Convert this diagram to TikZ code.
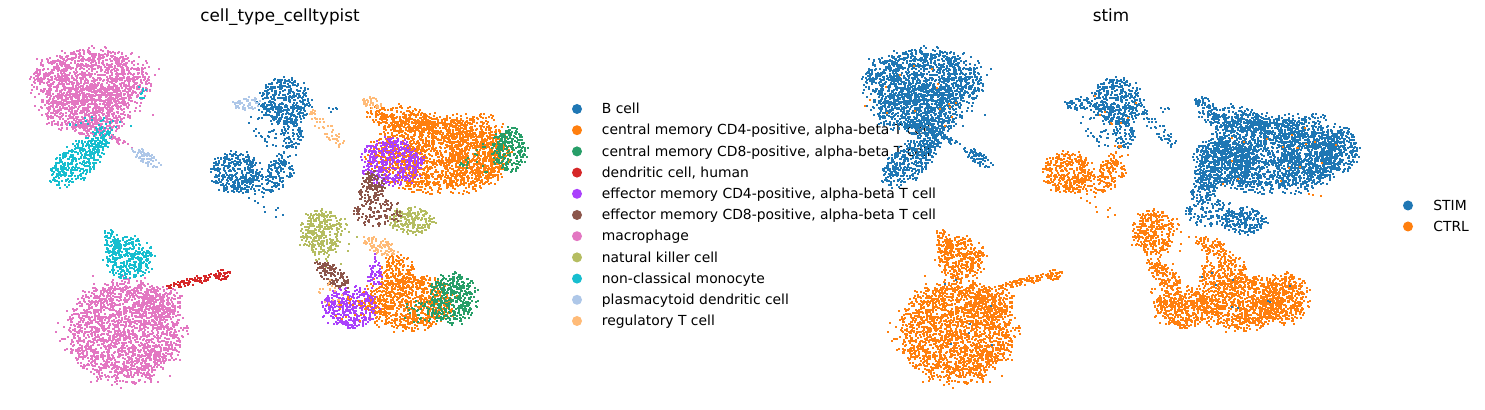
\documentclass[tikz,border=0pt]{standalone}
\usepackage{fontspec}
\setmainfont{DejaVu Sans}
\definecolor{cB}{HTML}{1F77B4}
\definecolor{cCMfour}{HTML}{FF7F0E}
\definecolor{cCMeight}{HTML}{279E68}
\definecolor{cDC}{HTML}{D62728}
\definecolor{cEMfour}{HTML}{AA40FC}
\definecolor{cEMeight}{HTML}{8C564B}
\definecolor{cMac}{HTML}{E377C2}
\definecolor{cNK}{HTML}{B5BD61}
\definecolor{cMono}{HTML}{17BECF}
\definecolor{cPDC}{HTML}{AEC7E8}
\definecolor{cTreg}{HTML}{FFBB78}
\definecolor{cSTIM}{HTML}{1F77B4}
\definecolor{cCTRL}{HTML}{FF7F0E}
\newdimen\bu \newdimen\bv \newdimen\bt \newdimen\bs
\newcount\bn
\newif\ifstimpanel
\newcommand\blobdens{0.22}
% \blob[factor]{cx}{cy}{a}{b}{phi}{seed}  (pixel coordinates, y downwards)
\newcommand\blob[7][1]{%
  \pgfmathsetseed{#7}%
  \pgfmathsetlengthmacro\bKa{0.5*(#4)*cos(#6)}%
  \pgfmathsetlengthmacro\bKb{-0.5*(#5)*sin(#6)}%
  \pgfmathsetlengthmacro\bKc{-0.5*(#4)*sin(#6)}%
  \pgfmathsetlengthmacro\bKd{-0.5*(#5)*cos(#6)}%
  \pgfmathsetlengthmacro\bCx{0.5*(#2)-0.5}%
  \pgfmathsetlengthmacro\bCy{-0.5*(#3)-0.5}%
  \pgfmathtruncatemacro\bN{#1*\blobdens*4*(#4)*(#5)}%
  \bn=\bN\relax
  \loop\ifnum\bn>0
    \pgfmathrand\bu=\pgfmathresult pt
    \pgfmathrand\bv=\pgfmathresult pt
    \bt=\dimexpr\bu*\number\bu/65536+\bv*\number\bv/65536\relax
    \ifdim\bt<1pt
      \pgfmathrnd\bs=\pgfmathresult pt
      \bs=\dimexpr\bs*3/10+0.84pt\relax
      \bu=\dimexpr\bu*\number\bs/65536\relax
      \bv=\dimexpr\bv*\number\bs/65536\relax
      \pgfpathrectangle{\pgfqpoint{\dimexpr\bCx+\bKa*\number\bu/65536+\bKb*\number\bv/65536\relax}{\dimexpr\bCy+\bKc*\number\bu/65536+\bKd*\number\bv/65536\relax}}{\pgfqpoint{1pt}{1pt}}%
      \pgfusepath{fill}%
    \fi
    \advance\bn-1
  \repeat
}
\newcommand\cb[3]{\begin{pgfscope}\ifstimpanel\pgfsetfillcolor{#2}\else\pgfsetfillcolor{#1}\fi#3\end{pgfscope}}
\newcommand\so[2]{\ifstimpanel\begin{pgfscope}\pgfsetfillcolor{#1}#2\end{pgfscope}\fi}
\newcommand\embedding{%
  % top-left group (STIM)
  \cb{cMac}{cSTIM}{\blob{92}{80}{58}{31}{0}{101}\blob[0.8]{86}{110}{44}{22}{0}{102}\blob[0.8]{93}{127}{22}{10}{0}{103}\blob[0.06]{92}{90}{66}{45}{0}{113}}%
  \cb{cMono}{cSTIM}{\blob{76}{163}{30}{17}{-40}{104}\blob{100}{140}{16}{10}{-40}{105}\blob[0.15]{98}{124}{30}{8}{0}{106}\blob[0.3]{143}{93}{7}{7}{0}{107}}%
  \cb{cMac}{cSTIM}{\blob[0.8]{121}{142}{14}{3}{31}{108}}%
  \cb{cPDC}{cSTIM}{\blob{146}{158}{17}{6}{32}{109}}%
  \so{cCTRL}{\blob[0.012]{85}{100}{50}{40}{0}{701}}%
  % bottom-left group (CTRL)
  \cb{cMac}{cCTRL}{\blob{125}{331}{57}{50}{0}{203}\blob[0.7]{160}{302}{22}{17}{0}{204}\blob[0.06]{125}{331}{64}{56}{0}{207}}%
  \cb{cMono}{cCTRL}{\blob{129}{258}{24}{21}{0}{201}\blob{112}{242}{8}{13}{-20}{202}}%
  \cb{cDC}{cCTRL}{\blob{198}{280}{32}{4}{-13}{205}\blob{222}{275}{9}{5}{-13}{206}}%
  \so{cSTIM}{\blob[0.006]{125}{320}{50}{45}{0}{702}}%
  % B cells top (STIM)
  \cb{cB}{cSTIM}{\blob{285}{102}{25}{24}{0}{301}\blob[0.6]{292}{135}{11}{16}{0}{302}\blob[0.15]{272}{125}{22}{24}{0}{303}}%
  \cb{cPDC}{cSTIM}{\blob{246}{104}{14}{6}{-5}{304}}%
  \cb{cTreg}{cSTIM}{\blob[0.4]{325}{128}{26}{7}{47}{305}}%
  \cb{cB}{cSTIM}{\blob[0.15]{336}{110}{20}{3}{0}{306}}%
  \so{cCTRL}{\blob[0.015]{285}{110}{25}{30}{0}{703}}%
  % B cells lower (CTRL)
  \cb{cB}{cCTRL}{\blob{236}{172}{24}{21}{0}{401}\blob{280}{170}{14}{11}{0}{402}\blob[0.35]{288}{155}{10}{10}{0}{403}\blob[0.1]{262}{203}{30}{7}{38}{404}\blob[0.45]{260}{184}{22}{10}{0}{405}}%
  % T cells top (STIM)
  \cb{cCMfour}{cSTIM}{\blob{440}{153}{68}{37}{0}{501}\blob[0.9]{402}{118}{35}{12}{8}{502}\blob[0.5]{478}{150}{30}{38}{0}{503}\blob[0.1]{440}{190}{40}{8}{0}{504}}%
  \cb{cTreg}{cSTIM}{\blob{372}{103}{10}{6}{0}{505}}%
  \cb{cCMeight}{cSTIM}{\blob{510}{150}{17}{22}{0}{506}\blob[0.1]{478}{160}{22}{15}{0}{507}}%
  \cb{cEMfour}{cSTIM}{\blob{392}{162}{30}{23}{0}{508}}%
  \cb{cCMfour}{cSTIM}{\blob[0.06]{400}{160}{25}{20}{0}{509}}%
  \cb{cNK}{cSTIM}{\blob{412}{221}{23}{13}{5}{512}}%
  \cb{cEMeight}{cSTIM}{\blob{372}{188}{13}{16}{10}{510}\blob[0.45]{376}{212}{26}{14}{0}{511}}%
  \so{cCTRL}{\blob[0.012]{440}{165}{70}{40}{0}{704}}%
  % T cells bottom (CTRL)
  \cb{cNK}{cCTRL}{\blob{321}{232}{20}{22}{0}{601}\blob[0.08]{325}{237}{30}{28}{0}{602}}%
  \cb{cEMeight}{cCTRL}{\blob{333}{275}{22}{9}{40}{603}}%
  \cb{cTreg}{cCTRL}{\blob{380}{246}{18}{8}{22}{604}}%
  \cb{cCMfour}{cCTRL}{\blob{408}{302}{45}{28}{0}{605}\blob[0.8]{398}{270}{16}{15}{0}{606}}%
  \cb{cCMeight}{cCTRL}{\blob{453}{298}{24}{25}{0}{607}\blob[0.2]{425}{313}{25}{12}{0}{608}}%
  \cb{cEMfour}{cCTRL}{\blob{350}{308}{28}{20}{0}{609}\blob[0.6]{375}{270}{8}{17}{0}{610}}%
  \cb{cTreg}{cCTRL}{\blob[0.15]{332}{292}{14}{14}{0}{611}}%
  \cb{cCMfour}{cCTRL}{\blob[0.1]{355}{310}{25}{15}{0}{612}}%
  \so{cSTIM}{\blob[0.015]{410}{285}{50}{25}{0}{705}}%
}
\begin{document}
\begin{tikzpicture}[x=0.5pt,y=-0.5pt,
  legdot/.style={circle,inner sep=0pt,minimum size=5pt},
  legtxt/.style={anchor=base west,inner sep=0pt,font=\fontsize{6.94}{8}\selectfont},
  ttl/.style={anchor=base,inner sep=0pt,font=\fontsize{8.4}{10}\selectfont}]
\fill[white] (0,0) rectangle (1485,410);
\useasboundingbox (0,0) rectangle (1485,410);
\stimpanelfalse
\embedding
\node[ttl] (t1) at (280,21.7) {cell\_type\_celltypist};
\foreach \c/\t [count=\k from 0] in {cB/B cell,
  cCMfour/{central memory CD4-positive, alpha-beta T cell},
  cCMeight/{central memory CD8-positive, alpha-beta T cell},
  cDC/{dendritic cell, human},
  cEMfour/{effector memory CD4-positive, alpha-beta T cell},
  cEMeight/{effector memory CD8-positive, alpha-beta T cell},
  cMac/macrophage,
  cNK/natural killer cell,
  cMono/non-classical monocyte,
  cPDC/plasmacytoid dendritic cell,
  cTreg/regulatory T cell}{
  \node[legdot,fill=\c] (ld\k) at (577,109+21.2*\k) {};
  \node[legtxt] (lt\k) at (601.5,113.8+21.2*\k) {\t};
}
\begin{scope}[xshift=416pt]
\stimpaneltrue
\embedding
\end{scope}
\node[ttl] (t2) at (1111,21.7) {stim};
\node[legdot,fill=cSTIM] (sd1) at (1408,205.5) {};
\node[legtxt] (st1) at (1433,210.3) {STIM};
\node[legdot,fill=cCTRL] (sd2) at (1408,226.5) {};
\node[legtxt] (st2) at (1433,231.3) {CTRL};
\end{tikzpicture}
\end{document}
